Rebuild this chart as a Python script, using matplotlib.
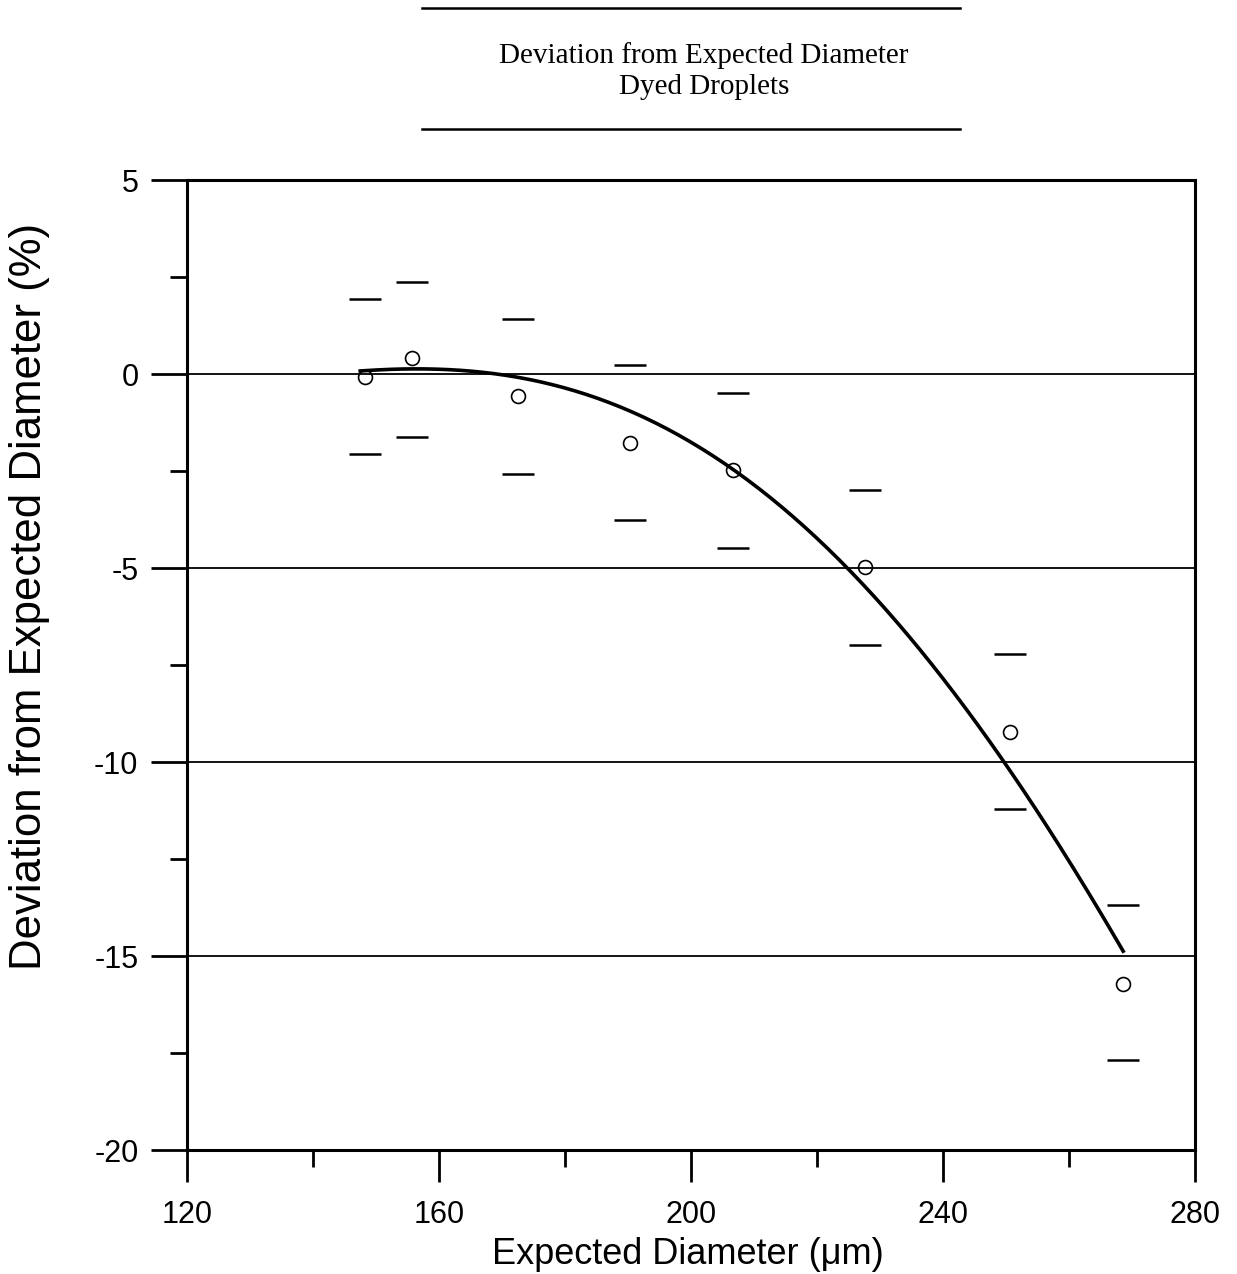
import numpy as np
import matplotlib
matplotlib.use("Agg")
import matplotlib.pyplot as plt
from matplotlib.ticker import MultipleLocator

# measured points (expected diameter, deviation %), with upper/lower bounds
diam = [148.3, 155.7, 172.5, 190.3, 206.7, 227.6, 250.6, 268.6]
dev = [-0.08, 0.41, -0.57, -1.78, -2.47, -4.97, -9.23, -15.72]
dev_hi = [1.93, 2.37, 1.42, 0.23, -0.49, -2.99, -7.22, -13.69]
dev_lo = [-2.06, -1.62, -2.58, -3.76, -4.48, -6.98, -11.21, -17.68]

# fitted curve, points
fit_x = [147.5, 155.0, 165.4, 171.7, 179.2, 185.6, 190.8, 198.7, 206.7, 214.1,
         222.1, 224.1, 238.4, 245.9, 249.5, 263.3, 268.6]
fit_y = [0.10, 0.10, 0.05, -0.03, -0.36, -0.62, -0.98, -1.65, -2.42, -3.43,
         -4.48, -4.97, -7.55, -9.10, -9.95, -13.40, -14.90]

grid_y = [0, -5, -10, -15]

plt.rcParams['font.family'] = ['Liberation Sans', 'DejaVu Sans']
plt.rcParams['axes.unicode_minus'] = False

W, H = 1237, 1274
fig = plt.figure(figsize=(W / 100, H / 100), dpi=100)
ax = fig.add_axes([187/W, 1 - 1150/H, (1195-187)/W, (1150-180)/H])

for g in grid_y:
    ax.axhline(g, color='black', lw=1.3, zorder=1)

# smooth trend line through the read curve points
coef = np.polyfit(fit_x, fit_y, 4)
xs = np.linspace(fit_x[0], fit_x[-1], 200)
ax.plot(xs, np.polyval(coef, xs), color='black', lw=2.6, zorder=3)

ax.plot(diam, dev, 'o', mfc='none', mec='black', ms=10, mew=1.2, zorder=4)
ax.plot(diam, dev_hi, '_', color='black', ms=23, mew=1.8, zorder=4)
ax.plot(diam, dev_lo, '_', color='black', ms=23, mew=1.8, zorder=4)

ax.set_xlim(120, 280)
ax.set_ylim(-20, 5)
ax.xaxis.set_major_locator(MultipleLocator(40))
ax.xaxis.set_minor_locator(MultipleLocator(20))
ax.yaxis.set_major_locator(MultipleLocator(5))
ax.yaxis.set_minor_locator(MultipleLocator(2.5))
ax.tick_params(which='major', direction='out', width=2, labelsize=22)
ax.tick_params(axis='x', which='major', length=23, pad=13)
ax.tick_params(axis='y', which='major', length=26, pad=9)
ax.tick_params(which='minor', direction='out', length=12, width=2)
for s in ax.spines.values():
    s.set_linewidth(2.2)

fig.text(688/W, 1 - 1264/H, 'Expected Diameter (\u03bcm)', fontsize=26,
         ha='center', va='baseline')
fig.text(30/W, 1 - 596/H, 'Deviation from Expected Diameter (%)', fontsize=31.5,
         ha='center', va='center', rotation=90)

# title block with rules above and below
fig.add_artist(plt.Line2D([422/W, 960/W], [1 - 8/H, 1 - 8/H], color='black', lw=1.8))
fig.add_artist(plt.Line2D([422/W, 960/W], [1 - 129/H, 1 - 129/H], color='black', lw=1.8))
fig.text(704/W, 1 - 71/H, 'Deviation from Expected Diameter\nDyed Droplets',
         ha='center', va='center', fontsize=21, family='Liberation Serif', linespacing=1.25)

fig.savefig('out.png', dpi=100)
